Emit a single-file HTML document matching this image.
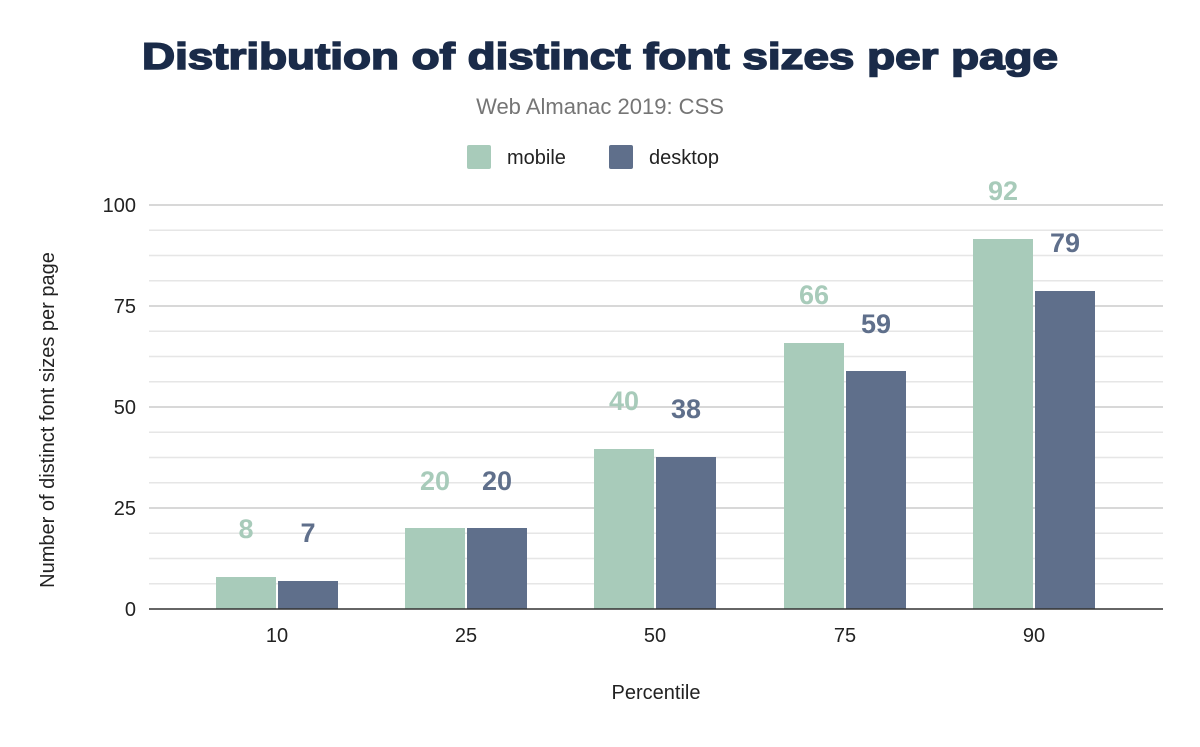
<!DOCTYPE html>
<html><head><style>body{margin:0;background:#fff}</style></head><body>
<svg width="1200" height="742" xmlns="http://www.w3.org/2000/svg" font-family="Liberation Sans, Arial, sans-serif">
<rect width="1200" height="742" fill="#fff"/>
<text x="600" y="69" text-anchor="middle" font-size="37" font-weight="900" fill="#1a2b49" stroke="#1a2b49" stroke-width="1.6" textLength="916" lengthAdjust="spacingAndGlyphs">Distribution of distinct font sizes per page</text>
<text x="600" y="114" text-anchor="middle" font-size="22" fill="#757575">Web Almanac 2019: CSS</text>
<rect x="467" y="145" width="24" height="24" rx="2" fill="#a8cbba"/>
<text x="507" y="164" font-size="20" fill="#222">mobile</text>
<rect x="609" y="145" width="24" height="24" rx="2" fill="#5f6f8b"/>
<text x="649" y="164" font-size="20" fill="#222">desktop</text>
<g stroke="#e6e6e6" stroke-width="1.5">
<line x1="149" x2="1163" y1="230.25" y2="230.25"/><line x1="149" x2="1163" y1="255.5" y2="255.5"/><line x1="149" x2="1163" y1="280.75" y2="280.75"/>
<line x1="149" x2="1163" y1="331.25" y2="331.25"/><line x1="149" x2="1163" y1="356.5" y2="356.5"/><line x1="149" x2="1163" y1="381.75" y2="381.75"/>
<line x1="149" x2="1163" y1="432.25" y2="432.25"/><line x1="149" x2="1163" y1="457.5" y2="457.5"/><line x1="149" x2="1163" y1="482.75" y2="482.75"/>
<line x1="149" x2="1163" y1="533.25" y2="533.25"/><line x1="149" x2="1163" y1="558.5" y2="558.5"/><line x1="149" x2="1163" y1="583.75" y2="583.75"/>
</g>
<g stroke="#ccc" stroke-width="1.5">
<line x1="149" x2="1163" y1="205" y2="205"/><line x1="149" x2="1163" y1="306" y2="306"/><line x1="149" x2="1163" y1="407" y2="407"/><line x1="149" x2="1163" y1="508" y2="508"/>
</g>
<g font-size="20" fill="#222" text-anchor="end">
<text x="136" y="212">100</text><text x="136" y="313">75</text><text x="136" y="414">50</text><text x="136" y="515">25</text><text x="136" y="616">0</text>
</g>
<g fill="#a8cbba">
<rect x="216" y="577" width="60" height="32"/><rect x="405" y="528" width="60" height="81"/><rect x="594" y="449" width="60" height="160"/><rect x="784" y="343" width="60" height="266"/><rect x="973" y="239" width="60" height="370"/>
</g>
<g fill="#5f6f8b">
<rect x="278" y="581" width="60" height="28"/><rect x="467" y="528" width="60" height="81"/><rect x="656" y="457" width="60" height="152"/><rect x="846" y="371" width="60" height="238"/><rect x="1035" y="291" width="60" height="318"/>
</g>
<line x1="149" x2="1163" y1="609" y2="609" stroke="#333" stroke-width="1.5"/>
<g font-size="27" font-weight="bold" text-anchor="middle">
<g fill="#a8cbba"><text x="246" y="538">8</text><text x="435" y="490">20</text><text x="624" y="410">40</text><text x="814" y="304">66</text><text x="1003" y="200">92</text></g>
<g fill="#5f6f8b"><text x="308" y="542">7</text><text x="497" y="490">20</text><text x="686" y="418">38</text><text x="876" y="333">59</text><text x="1065" y="252">79</text></g>
</g>
<g font-size="20" fill="#222" text-anchor="middle">
<text x="277" y="642">10</text><text x="466" y="642">25</text><text x="655" y="642">50</text><text x="845" y="642">75</text><text x="1034" y="642">90</text>
<text x="656" y="699">Percentile</text>
<text transform="translate(54,420) rotate(-90)">Number of distinct font sizes per page</text>
</g>
</svg>
</body></html>
